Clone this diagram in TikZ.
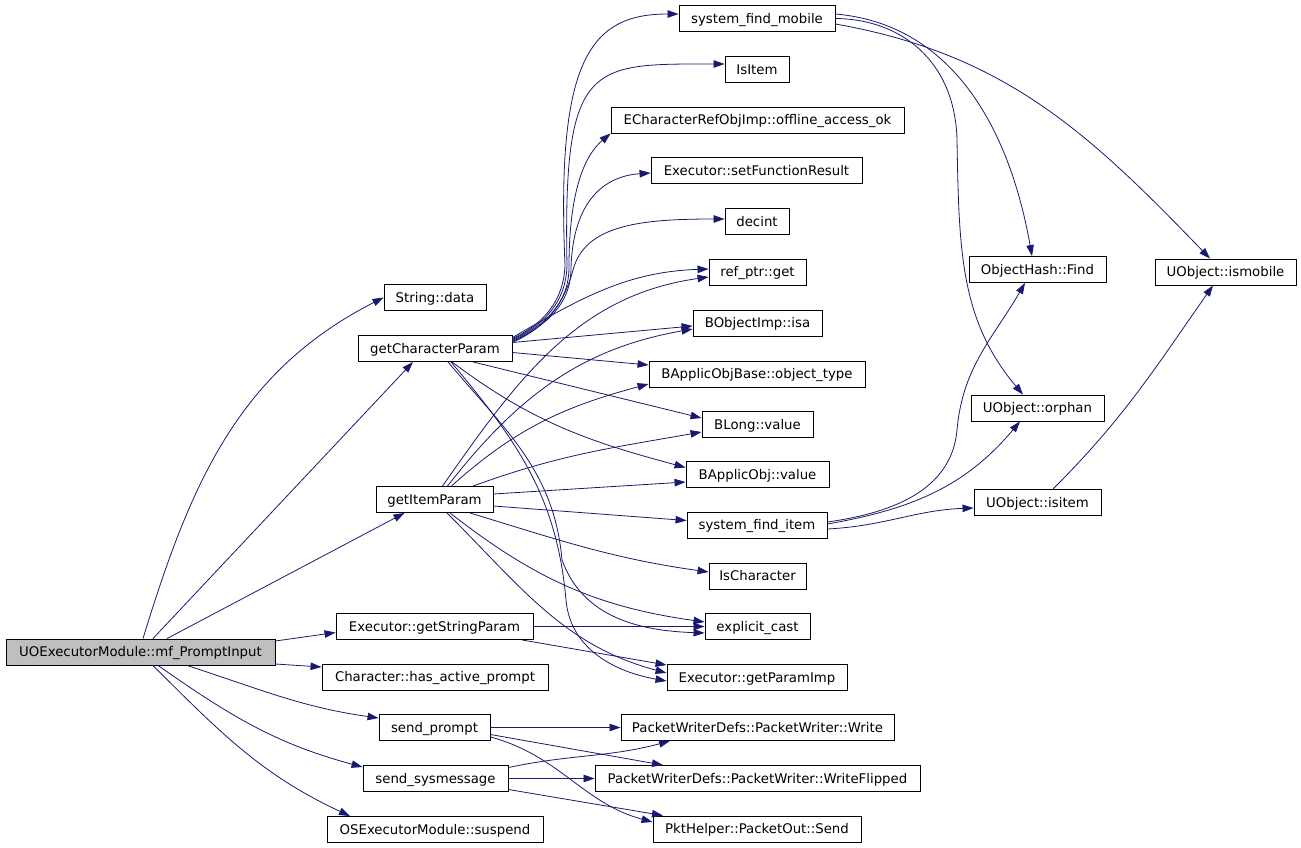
\documentclass[tikz,border=0pt]{standalone}
\usepackage{fontspec}
\setmainfont{DejaVu Sans}
\usetikzlibrary{arrows.meta}
\definecolor{edgeblue}{HTML}{191970}
\definecolor{rootgray}{HTML}{BFBFBF}

\begin{document}
\begin{tikzpicture}[x=1pt, y=-1pt,
    fn/.style={draw, line width=0.9pt, fill=white, inner sep=0pt, minimum height=26pt,
      text height=9.7pt, text depth=0pt, font=\fontsize{13.3}{16}\selectfont},
    call/.style={edgeblue, line width=0.8pt, -{Triangle[length=11pt,width=7.5pt]}}]
    \useasboundingbox (0,0) rectangle (1301,848);
    \node[fn, fill=rootgray, minimum width=269pt] (main) at (140.5,652) {UOExecutorModule::mf\_PromptInput};
    \node[fn, minimum width=102pt] (sd) at (435,297.5) {String::data};
    \node[fn, minimum width=154pt] (gcp) at (435,348.5) {getCharacterParam};
    \node[fn, minimum width=117pt] (gip) at (434.5,499.5) {getItemParam};
    \node[fn, minimum width=197pt] (gsp) at (434.5,626.5) {Executor::getStringParam};
    \node[fn, minimum width=226pt] (hap) at (435,677) {Character::has\_active\_prompt};
    \node[fn, minimum width=111pt] (sp) at (434.5,727.5) {send\_prompt};
    \node[fn, minimum width=145pt] (ssm) at (435.5,778.5) {send\_sysmessage};
    \node[fn, minimum width=216pt] (sus) at (435,829.5) {OSExecutorModule::suspend};
    \node[fn, minimum width=156pt] (sfm) at (757,18.5) {system\_find\_mobile};
    \node[fn, minimum width=64pt] (isit) at (757,69.5) {IsItem};
    \node[fn, minimum width=293pt] (ecr) at (757.5,120) {ECharacterRefObjImp::offline\_access\_ok};
    \node[fn, minimum width=211pt] (sfr) at (756.5,170.5) {Executor::setFunctionResult};
    \node[fn, minimum width=64pt] (dec) at (757,221.5) {decint};
    \node[fn, minimum width=97pt] (rpg) at (757.5,272) {ref\_ptr::get};
    \node[fn, minimum width=129pt] (isa) at (757.5,323) {BObjectImp::isa};
    \node[fn, minimum width=216pt] (aot) at (757,374) {BApplicObjBase::object\_type};
    \node[fn, minimum width=111pt] (blv) at (757.5,424.5) {BLong::value};
    \node[fn, minimum width=143pt] (bav) at (757.5,474.5) {BApplicObj::value};
    \node[fn, minimum width=140pt] (sfi) at (757,525) {system\_find\_item};
    \node[fn, minimum width=97pt] (isc) at (757.5,576) {IsCharacter};
    \node[fn, minimum width=105pt] (ec) at (757.5,626.5) {explicit\_cast};
    \node[fn, minimum width=180pt] (gpi) at (757,677.5) {Executor::getParamImp};
    \node[fn, minimum width=273pt] (pww) at (757.5,727.5) {PacketWriterDefs::PacketWriter::Write};
    \node[fn, minimum width=325pt] (pwf) at (757.5,778.5) {PacketWriterDefs::PacketWriter::WriteFlipped};
    \node[fn, minimum width=208pt] (pos) at (757,829) {PktHelper::PacketOut::Send};
    \node[fn, minimum width=137pt] (ohf) at (1037.5,269.5) {ObjectHash::Find};
    \node[fn, minimum width=141pt] (uim) at (1225.5,272) {UObject::ismobile};
    \node[fn, minimum width=133pt] (uor) at (1037.5,408) {UObject::orphan};
    \node[fn, minimum width=127pt] (uii) at (1037.5,502.5) {UObject::isitem};
    % calls of mf_PromptInput
    \draw[call] ([xshift=2.5pt]main.north) to[out=73,in=207] (sd.west);
    \draw[call] ([xshift=12.5pt]main.north) -- ([xshift=-22pt]gcp.south);
    \draw[call] ([xshift=26.5pt]main.north) -- ([xshift=-30pt]gip.south);
    \draw[call] ([yshift=11pt]main.east) -- ([yshift=-6pt]gsp.west);
    \draw[call] ([yshift=-12pt]main.east) -- ([yshift=10pt]hap.west);
    \draw[call] ([xshift=46.5pt]main.south) to[out=-18,in=172] ([yshift=9.5pt]sp.west);
    \draw[call] ([xshift=17.5pt]main.south) to[out=-35,in=165] ([yshift=11.5pt]ssm.west);
    \draw[call] ([xshift=12.5pt]main.south) to[out=-45,in=155] ([xshift=-85pt]sus.north);
    % calls of getCharacterParam
    \draw[call] ([yshift=10pt]gcp.east) to[out=25,in=-92] (565,265) .. controls (556,60) and (590,14) .. ([yshift=4.5pt]sfm.west);
    \draw[call] ([yshift=9pt]gcp.east) to[out=25,in=-92] (567,266) .. controls (563,60) and (590,64) .. ([yshift=5.5pt]isit.west);
    \draw[call] ([yshift=8pt]gcp.east) to[out=25,in=-90] (569,267) .. controls (569,190) and (585,155) .. (ecr.south west);
    \draw[call] ([yshift=7pt]gcp.east) to[out=25,in=-90] (571,268) .. controls (573,200) and (605,176) .. ([yshift=-2.5pt]sfr.west);
    \draw[call] ([yshift=6pt]gcp.east) to[out=25,in=-105] (573,270) .. controls (585,225) and (640,219) .. ([yshift=2.5pt]dec.west);
    \draw[call] ([yshift=11pt]gcp.east) to[out=30,in=182] ([yshift=3pt]rpg.west);
    \draw[call] ([yshift=6pt]gcp.east) -- ([yshift=-3pt]isa.west);
    \draw[call] ([yshift=-4pt]gcp.east) -- ([yshift=9pt]aot.west);
    \draw[call] ([xshift=38pt]gcp.south) -- ([yshift=6.5pt]blv.west);
    \draw[call] ([xshift=17pt]gcp.south) to[out=-37,in=165] ([yshift=7pt]bav.west);
    \draw[call] ([xshift=13pt]gcp.south) to[out=-50,in=95] (562,560) to[out=-70,in=178] ([yshift=-6.5pt]ec.west);
    \draw[call] ([xshift=16pt]gcp.south) to[out=-50,in=95] (566,600) to[out=-85,in=170] ([yshift=-3.5pt]gpi.west);
    % calls of getItemParam
    \draw[call] ([xshift=8pt]gip.north) to[out=55,in=188] ([yshift=-5pt]rpg.west);
    \draw[call] ([xshift=13pt]gip.north) to[out=52,in=190] ([yshift=-6pt]isa.west);
    \draw[call] ([xshift=17pt]gip.north) to[out=42,in=195] ([yshift=-10pt]aot.west);
    \draw[call] ([xshift=38.5pt]gip.north) to[out=20,in=190] ([yshift=-7.5pt]blv.west);
    \draw[call] ([yshift=5.5pt]gip.east) -- ([yshift=-7.5pt]bav.west);
    \draw[call] ([yshift=-6.5pt]gip.east) -- ([yshift=4.5pt]sfi.west);
    \draw[call] ([xshift=35.5pt]gip.south) to[out=-17,in=172] ([yshift=4pt]isc.west);
    \draw[call] ([xshift=15.5pt]gip.south) to[out=-38,in=172] ([yshift=4.5pt]ec.west);
    \draw[call] ([xshift=12.5pt]gip.south) to[out=-45,in=165] ([yshift=4.5pt]gpi.west);
    % getStringParam, send_prompt, send_sysmessage
    \draw[call] (gsp.east) -- (ec.west);
    \draw[call] ([xshift=87.5pt]gsp.south) -- ([yshift=12.5pt]gpi.west);
    \draw[call] (sp.east) -- (pww.west);
    \draw[call] ([yshift=-7pt]sp.east) -- ([xshift=-94.5pt]pwf.north);
    \draw[call] ([yshift=-9.5pt]sp.east) to[out=-15,in=165] ([yshift=7pt]pos.west);
    \draw[call] ([yshift=11pt]ssm.east) to[out=12,in=195] ([xshift=-87.5pt]pww.south);
    \draw[call] (ssm.east) -- (pwf.west);
    \draw[call] ([yshift=-11pt]ssm.east) -- ([xshift=-94pt]pos.north);
    % system_find_mobile, system_find_item
    \draw[call] ([yshift=4.5pt]sfm.east) to[out=-5,in=100] ([xshift=-5.5pt]ohf.north);
    \draw[call] (sfm.east) .. controls (900,19) and (955,60) .. (957,140) .. controls (959,250) and (960,320) .. ([xshift=-14.5pt]uor.north);
    \draw[call] ([yshift=-5.5pt]sfm.east) to[out=-10,in=134] ([xshift=-15.5pt]uim.north);
    \draw[call] ([yshift=3pt]sfi.east) to[out=8,in=-95] (957,430) to[out=85,in=-120] ([xshift=-12.5pt]ohf.south);
    \draw[call] ([yshift=1pt]sfi.east) to[out=10,in=-130] ([xshift=-17.5pt]uor.south);
    \draw[call] ([yshift=-4pt]sfi.east) to[out=3,in=182] ([yshift=-5.5pt]uii.west);
    \draw[call] ([xshift=15.5pt]uii.north) to[out=45,in=-125] ([xshift=-12.5pt]uim.south);
\end{tikzpicture}
\end{document}
